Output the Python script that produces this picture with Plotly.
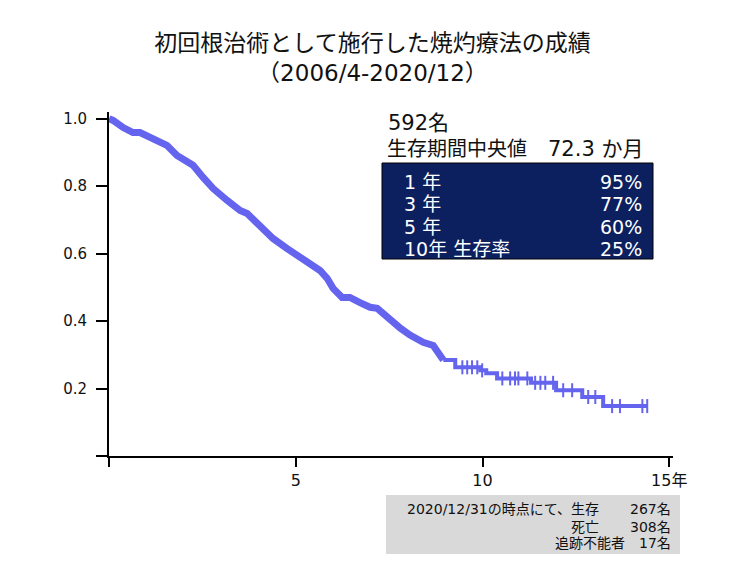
import numpy as np
import plotly.graph_objects as go

# ---- data ----
# early, densely stepped part of the Kaplan-Meier curve (years, survival)
early_t = [0.0, 0.11, 0.38, 0.64, 0.83, 1.10, 1.37, 1.55, 1.82, 2.09, 2.25, 2.52,
           2.79, 3.16, 3.51, 3.70, 3.97, 4.31, 4.39, 4.77, 5.12, 5.38, 5.65, 5.84,
           6.00, 6.24, 6.45, 6.72, 6.99, 7.18, 7.45, 7.80, 8.07, 8.41, 8.68, 8.95]
early_s = [1.000, 0.995, 0.974, 0.959, 0.959, 0.945, 0.930, 0.921, 0.891, 0.870, 0.862, 0.826,
           0.793, 0.758, 0.728, 0.719, 0.690, 0.654, 0.645, 0.615, 0.589, 0.574, 0.550, 0.527,
           0.497, 0.470, 0.470, 0.455, 0.441, 0.438, 0.411, 0.379, 0.358, 0.337, 0.328, 0.285]
# tail with visible steps
tail_t = [8.95, 9.27, 9.94, 10.10, 10.39, 11.30, 11.97, 12.67, 13.23, 14.41]
tail_s = [0.285, 0.263, 0.254, 0.245, 0.230, 0.217, 0.195, 0.175, 0.148, 0.148]
# censored observations (years)
censor_t = [9.46, 9.59, 9.72, 9.86, 9.99, 10.53, 10.74, 10.87, 10.96, 11.20, 11.41,
            11.55, 11.68, 11.89, 12.16, 12.40, 12.83, 13.02, 13.47, 13.68, 14.28, 14.41]

x_tickvals = [0, 5, 10, 15]
x_ticktext = ["", "5", "10", "15年"]
y_tickvals = [0, 0.2, 0.4, 0.6, 0.8, 1.0]
y_ticktext = ["", "0.2", "0.4", "0.6", "0.8", "1.0"]

n_patients = "592名"
median_label = "生存期間中央値"
median_value = "72.3 か月"
rate_labels = ["1 年", "3 年", "5 年", "10年 生存率"]
rate_values = ["95%", "77%", "60%", "25%"]
foot_labels = ["2020/12/31の時点にて、生存", "死亡"]
foot_values = ["267名", "308名"]
foot_last = "追跡不能者　17名"

title_text = "初回根治術として施行した焼灼療法の成績<br>（2006/4-2020/12）"

# ---- figure ----
FONT = "DejaVu Sans, Noto Sans CJK JP, sans-serif"
LINE = "#6464EE"

def step_value(t):
    idx = np.searchsorted(np.array(tail_t), t, side="right") - 1
    idx = np.clip(idx, 0, len(tail_s) - 1)
    return np.array(tail_s)[idx]

fig = go.Figure()
fig.add_trace(go.Scatter(x=early_t, y=early_s, mode="lines",
                         line=dict(color=LINE, width=7), hoverinfo="skip"))
fig.add_trace(go.Scatter(x=tail_t, y=tail_s, mode="lines",
                         line=dict(color=LINE, width=4, shape="hv"), hoverinfo="skip"))
fig.add_trace(go.Scatter(x=censor_t, y=step_value(np.array(censor_t)), mode="markers",
                         marker=dict(symbol="line-ns", size=10,
                                     line=dict(color=LINE, width=2)),
                         hoverinfo="skip"))

# the page puts the figure at an 8px offset; work in page pixels
OFF = 8
W, H = 745 - OFF, 565 - OFF
PX0, PX1 = 109, 673      # plot area left/right (page px)
PY0, PY1 = 112, 456      # plot area top/bottom (page px)
L, R = PX0 - OFF, (W + OFF) - PX1
T, B = PY0 - OFF, (H + OFF) - PY1

def px(xp):
    return (xp - PX0) / (PX1 - PX0)

def py(yp):
    return (PY1 - yp) / (PY1 - PY0)

shapes = [
    dict(type="rect", xref="paper", yref="paper", x0=px(382), x1=px(653),
         y0=py(259), y1=py(163), fillcolor="#0c2060", line=dict(color="#000000", width=1),
         layer="above"),
    dict(type="rect", xref="paper", yref="paper", x0=px(386), x1=px(680),
         y0=py(554), y1=py(495), fillcolor="#d9d9d9", line=dict(width=0),
         layer="above"),
]

ann = []
ann.append(dict(text=n_patients, x=px(386), y=py(123), xanchor="left", yanchor="middle",
                font=dict(size=21, color="#111111")))
ann.append(dict(text=median_label, x=px(385), y=py(149), xanchor="left", yanchor="middle",
                font=dict(size=20, color="#111111")))
ann.append(dict(text=median_value, x=px(645), y=py(149), xanchor="right", yanchor="middle",
                font=dict(size=21, color="#111111")))
row_y = [182, 204.3, 226.6, 248.9]
for lab, val, yy in zip(rate_labels, rate_values, row_y):
    ann.append(dict(text=lab, x=px(402), y=py(yy), xanchor="left", yanchor="middle",
                    font=dict(size=19, color="#ffffff")))
    ann.append(dict(text=val, x=px(644), y=py(yy), xanchor="right", yanchor="middle",
                    font=dict(size=19, color="#ffffff")))
foot_y = [509, 526.5, 543]
for lab, val, yy in zip(foot_labels, foot_values, foot_y):
    ann.append(dict(text=lab, x=px(601), y=py(yy), xanchor="right", yanchor="middle",
                    font=dict(size=14, color="#111111")))
    ann.append(dict(text=val, x=px(673), y=py(yy), xanchor="right", yanchor="middle",
                    font=dict(size=14, color="#111111")))
ann.append(dict(text=foot_last, x=px(673), y=py(foot_y[2]), xanchor="right", yanchor="middle",
                font=dict(size=14, color="#111111")))
for a in ann:
    a.update(xref="paper", yref="paper", showarrow=False, font_family=FONT)

fig.update_layout(
    width=W, height=H,
    margin=dict(l=L, r=R, t=T, b=B),
    paper_bgcolor="white", plot_bgcolor="white",
    showlegend=False,
    font=dict(family=FONT, color="#111111", size=16),
    title=dict(text=title_text, x=(372.5 - OFF) / W, xref="container", xanchor="center",
               y=1 - 43 / H, yref="container", yanchor="top",
               font=dict(size=23, family=FONT, color="#111111")),
    shapes=shapes,
    annotations=ann,
)
fig.update_xaxes(range=[0, 15.1], tickmode="array", tickvals=x_tickvals, ticktext=x_ticktext,
                 showgrid=False, zeroline=False, showline=True, linecolor="black", linewidth=2,
                 ticks="outside", ticklen=9, tickwidth=1.5, tickcolor="black",
                 tickfont=dict(size=16, color="#111111"))
fig.update_yaxes(range=[0, 1.02], tickmode="array", tickvals=y_tickvals, ticktext=y_ticktext,
                 showgrid=False, zeroline=False, showline=True, linecolor="black", linewidth=2,
                 ticks="outside", ticklen=11, tickwidth=1.5, tickcolor="black",
                 ticklabelstandoff=6, tickfont=dict(size=15, color="#111111"))

fig.write_html("out.html")
